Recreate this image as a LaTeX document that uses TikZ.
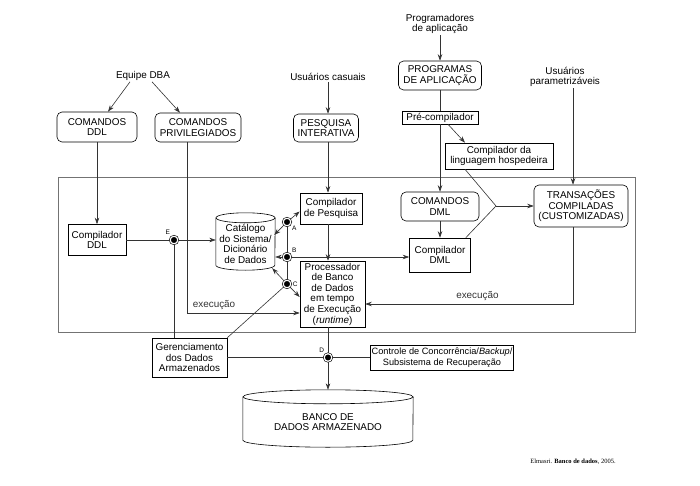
\documentclass[tikz,border=0pt]{standalone}
\usepackage{fontspec}
\setmainfont{Liberation Sans}
\newfontfamily\capfont{Liberation Serif}
\usetikzlibrary{arrows.meta}
\begin{document}
\begin{tikzpicture}[x=1pt,y=-1pt,font=\fontsize{9.9}{10.6}\selectfont,
  box/.style={draw,align=center,inner sep=1pt,fill=white,line width=0.6pt},
  rbox/.style={box,rounded corners=5pt},
  txt/.style={align=center,inner sep=1pt},
  conn/.style={draw,black!80,line width=0.6pt},
  arr/.style={conn,-{Stealth[length=6.5pt,width=4.5pt]}},
  junc/.style={circle,draw=black,fill=black,double=white,double distance=1.2pt,line width=0.6pt,minimum size=7.6pt,inner sep=0pt},
  tag/.style={font=\fontsize{6.5}{7}\selectfont,inner sep=1.5pt}]
\useasboundingbox (0,0) rectangle (700,486);
\path[draw,black!55,line width=0.6pt] (58,177) rectangle (635,332);
\node[txt] (dba) at (143,76) {Equipe DBA};
\node[txt] (casual) at (328,77) {Usuários casuais};
\node[txt] (progr) at (440,24) {Programadores\\de aplicação};
\node[txt] (param) at (565,77) {Usuários\\parametrizáveis};
\node[rbox,minimum width=80pt,minimum height=30pt] (ddlcmd) at (97,127) {COMANDOS\\DDL};
\node[rbox,minimum width=86pt,minimum height=29pt] (privcmd) at (198,127.5) {COMANDOS\\PRIVILEGIADOS};
\node[rbox,minimum width=65pt,minimum height=28pt] (pesq) at (326,128) {PESQUISA\\INTERATIVA};
\node[rbox,minimum width=83pt,minimum height=29pt] (progapl) at (440,75.5) {PROGRAMAS\\DE APLICAÇÃO};
\node[box,minimum width=76pt,minimum height=13pt] (precomp) at (440,117.5) {Pré-compilador};
\node[box,minimum width=108pt,minimum height=26pt] (hostcomp) at (499,156) {Compilador da\\linguagem hospedeira};
\node[rbox,minimum width=78pt,minimum height=29pt] (dmlcmd) at (440,206.5) {COMANDOS\\DML};
\node[box,minimum width=61pt,minimum height=34pt] (dmlcomp) at (440,255) {Compilador\\DML};
\node[rbox,minimum width=94pt,minimum height=42pt] (trans) at (581,206) {TRANSAÇÕES\\COMPILADAS\\(CUSTOMIZADAS)};
\node[box,minimum width=62pt,minimum height=31pt] (qcomp) at (331,208.5) {Compilador\\de Pesquisa};
\node[box,minimum width=65pt,minimum height=66pt] (proc) at (332.5,294) {Processador\\de Banco\\de Dados\\em tempo\\de Execução\\(\textit{runtime})};
\node[txt,inner sep=0pt,minimum width=59pt,minimum height=52pt] (catalog) at (245.5,244) {Catálogo\\do Sistema/\\Dicionário\\de Dados};
\node[box,minimum width=58pt,minimum height=31pt] (ddlcomp) at (97,240) {Compilador\\DDL};
\node[box,minimum width=75pt,minimum height=39pt] (gerenc) at (189.5,357.5) {Gerenciamento\\dos Dados\\Armazenados};
\node[box,minimum width=140pt,minimum height=25pt,font=\fontsize{9.2}{10.6}\selectfont] (controle) at (442,357.5) {Controle de Concorrência/\textit{Backup}/\\Subsistema de Recuperação};
\node[txt,inner sep=0pt,minimum width=170pt,minimum height=50pt] (banco) at (328,422) {BANCO DE\\DADOS ARMAZENADO};
\path[draw,line width=0.6pt] (catalog.north west) -- ([yshift=5pt]catalog.south west) arc[start angle=180,end angle=360,x radius=29.5pt,y radius=5pt] -- (catalog.north east);
\path[draw,line width=0.6pt] (catalog.north) ellipse[x radius=29.5pt,y radius=5pt];
\path[draw,line width=0.6pt] (banco.north west) -- ([yshift=7pt]banco.south west) arc[start angle=180,end angle=360,x radius=85pt,y radius=7pt] -- (banco.north east);
\path[draw,line width=0.6pt] (banco.north) ellipse[x radius=85pt,y radius=7pt];
\node[junc,label={[tag]-35:A}] (A) at (287,222) {};
\node[junc,label={[tag]35:B}] (B) at (287,257) {};
\node[junc,label={[tag]0:C}] (C) at (287,284) {};
\node[junc,label={[tag]125:D}] (D) at (328,357.5) {};
\node[junc,label={[tag]125:E}] (E) at (174,240) {};
\coordinate (mrg) at (496,206);
\path[arr] ([xshift=-13pt]dba.south) -- ([xshift=11pt]ddlcmd.north);
\path[arr] ([xshift=9pt]dba.south) -- ([xshift=-18pt]privcmd.north);
\path[arr] (casual.south) -- (casual |- pesq.north);
\path[arr] (progr.south) -- (progapl.north);
\path[arr] ([xshift=-8pt]trans.north |- param.south) -- ([xshift=-8pt]trans.north);
\path[conn] (progapl.south) -- (precomp.north);
\path[arr] (precomp.south) -- (dmlcmd.north);
\path[arr] ([xshift=8pt]precomp.south) -- ([xshift=-34pt]hostcomp.north);
\path[arr] (dmlcmd.south) -- (dmlcomp.north);
\path[conn] ([xshift=-34pt]hostcomp.south) -- (mrg) -- ([xshift=-5pt]dmlcomp.north east);
\path[arr] (mrg) -- (trans.west);
\path[arr] ([xshift=-8pt]trans.south) |- ([yshift=-10pt]proc.east) node[pos=0.73,above] {execução};
\path[arr] (casual |- pesq.south) -- (casual |- qcomp.north);
\path[arr] (casual |- qcomp.south) -- (casual |- proc.north);
\path[arr] (ddlcmd.south) -- (ddlcomp.north);
\path[conn] (ddlcomp.east) -- (E);
\path[arr] (E) -- (E -| catalog.west);
\path[conn] (E) -- (E |- gerenc.north);
\path[arr] ([xshift=-11pt]privcmd.south) |- ([yshift=-19pt]proc.west) node[pos=0.62,above] {execução};
\path[conn] (A) -- (B) -- (C);
\path[arr] (A) -- ([yshift=-3pt]qcomp.west);
\path[arr] (A) -- ([shift={(-1pt,9pt)}]catalog.east);
\path[arr] (B) -- (B -| catalog.east);
\path[arr] (B) -- (B -| dmlcomp.west);
\path[arr] (C) -- ([shift={(-3pt,2pt)}]catalog.south east);
\path[arr] (C) -- ([yshift=-3pt]proc.west);
\path[conn] (C) -- (gerenc.north east);
\path[conn] (D |- proc.south) -- (D);
\path[conn] (gerenc.east) -- (D) -- (controle.west);
\path[arr] (D) -- ([yshift=7pt]banco.north);
\node[font=\capfont\fontsize{6.5}{7}\selectfont] (cap) at (573,462) {Elmasri. \textbf{Banco de dados}, 2005.};
\end{tikzpicture}
\end{document}
